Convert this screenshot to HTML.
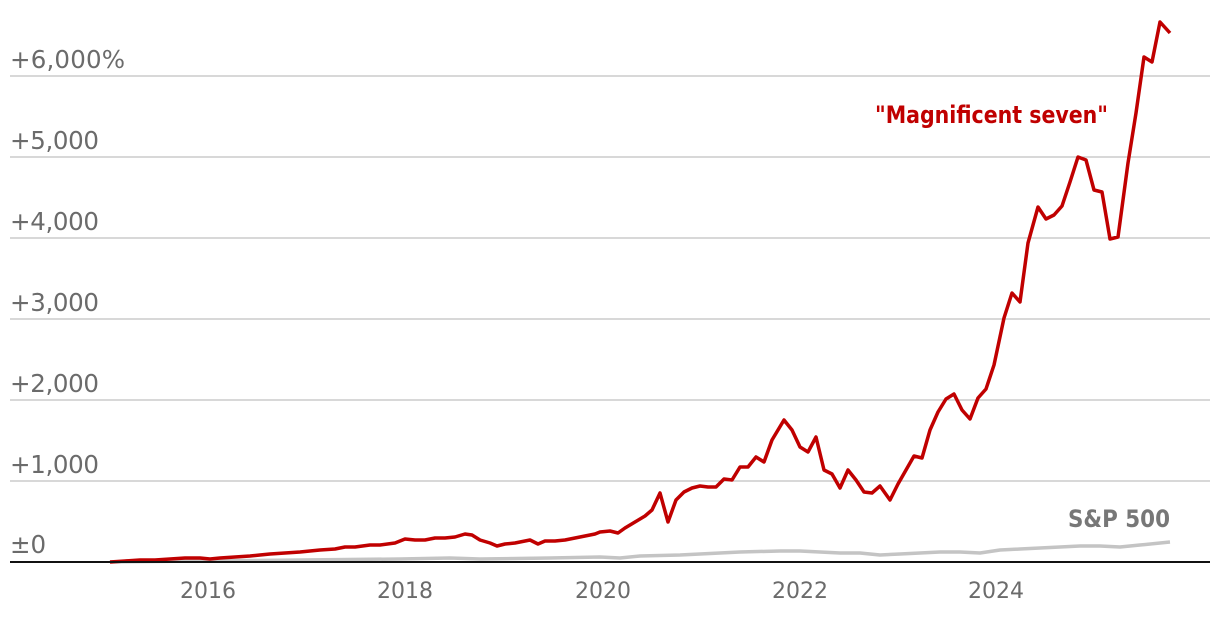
<!DOCTYPE html>
<html><head><meta charset="utf-8"><style>
html,body{margin:0;padding:0;background:#fff;}
svg{display:block;}
text{font-family:"DejaVu Sans","Liberation Sans",sans-serif;}
</style></head><body>
<svg width="1220" height="620" viewBox="0 0 1220 620" xmlns="http://www.w3.org/2000/svg">
<g stroke="#b0b0b0" stroke-width="1">
<line x1="10" y1="76" x2="1210" y2="76"/>
<line x1="10" y1="157" x2="1210" y2="157"/>
<line x1="10" y1="238" x2="1210" y2="238"/>
<line x1="10" y1="319" x2="1210" y2="319"/>
<line x1="10" y1="400" x2="1210" y2="400"/>
<line x1="10" y1="481" x2="1210" y2="481"/>
</g>
<g fill="#6b6b6b" font-size="24.5">
<text x="10" y="68" textLength="115">+6,000%</text>
<text x="10" y="149" textLength="89">+5,000</text>
<text x="10" y="230" textLength="89">+4,000</text>
<text x="10" y="311" textLength="89">+3,000</text>
<text x="10" y="392" textLength="89">+2,000</text>
<text x="10" y="473" textLength="89">+1,000</text>
<text x="10" y="553">±0</text>
</g>
<g fill="#6b6b6b" font-size="22" text-anchor="middle">
<text x="208" y="598">2016</text>
<text x="405" y="598">2018</text>
<text x="603" y="598">2020</text>
<text x="800" y="598">2022</text>
<text x="996" y="598">2024</text>
</g>
<polyline fill="none" stroke="#c4c4c4" stroke-width="3.5" stroke-linejoin="round" points="110,562 200,561 300,560 400,559 450,558 480,559 550,558 600,557 620,558 640,556 680,555 700,554 740,552 780,551 800,551 820,552 840,553 860,553 880,555 900,554 940,552 960,552 980,553 1000,550 1020,549 1040,548 1060,547 1080,546 1100,546 1120,547 1140,545 1170,542"/>
<polyline fill="none" stroke="#c00000" stroke-width="3.5" stroke-linejoin="round" points="110,562 125,561 140,560 155,560 170,559 185,558 200,558 210,559 220,558 235,557 250,556 260,555 270,554 285,553 300,552 310,551 320,550 335,549 345,547 355,547 370,545 380,545 395,543 405,539 415,540 425,540 435,538 445,538 455,537 465,534 472,535 480,540 490,543 497,546 505,544 515,543 525,541 530,540 538,544 545,541 555,541 565,540 575,538 585,536 595,534 600,532 610,531 618,533 625,528 635,522 645,516 652,510 660,493 668,522 676,500 684,492 692,488 700,486 708,487 716,487 724,479 732,480 740,467 748,467 756,457 764,462 772,440 784,420 792,430 800,447 808,452 816,437 824,470 832,474 840,488 848,470 856,480 864,492 872,493 880,486 890,500 898,484 906,470 914,456 922,458 930,430 938,412 946,399 954,394 962,410 970,419 978,398 986,389 994,365 1004,318 1012,293 1020,302 1028,243 1038,207 1046,219 1054,215 1062,206 1070,182 1078,157 1086,160 1094,190 1102,192 1110,239 1118,237 1128,163 1136,113 1144,57 1152,62 1160,22 1170,33"/>
<line x1="10" y1="562" x2="1210" y2="562" stroke="#111" stroke-width="2"/>
<text x="875" y="123" fill="#c00000" font-size="24" font-weight="bold" textLength="233" lengthAdjust="spacingAndGlyphs">"Magnificent seven"</text>
<text x="1068" y="527" fill="#777" font-size="24" font-weight="bold" textLength="102" lengthAdjust="spacingAndGlyphs">S&amp;P 500</text>
</svg>
</body></html>
